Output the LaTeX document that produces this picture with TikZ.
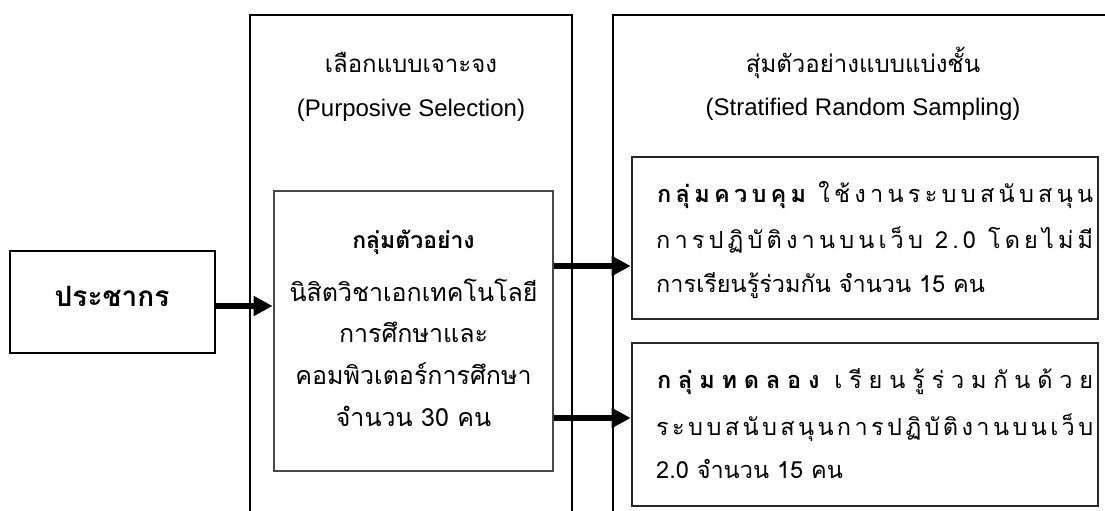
\documentclass[tikz,border=0pt]{standalone}
\usepackage{fontspec}
\setmainfont{Liberation Sans}
\newfontfamily\thai[Script=Thai]{Loma}
\usetikzlibrary{arrows.meta}
\newcommand{\gsp}{\hfil}
\tikzset{
  frame/.style={draw=black, line width=1.4pt, rectangle, inner sep=0pt},
  popbox/.style={draw=black, line width=1.8pt, rectangle, inner sep=0pt},
  samplebox/.style={draw=black!72, line width=2.8pt, rectangle, inner sep=0pt},
  groupbox/.style={draw=black!85, line width=2.6pt, rectangle, inner sep=0pt},
  thtxt/.style={font=\thai\fontsize{24}{28}\selectfont, inner sep=0pt},
  smptxt/.style={font=\thai\fontsize{25}{29}\selectfont, inner sep=0pt},
  grptxt/.style={font=\thai\fontsize{23.5}{28}\selectfont, inner sep=0pt},
  lattxt/.style={font=\fontsize{24}{28}\selectfont, inner sep=0pt},
  fat/.style={line width=6pt, -{Triangle[length=19pt,width=19pt]}},
}
\begin{document}
\begin{tikzpicture}[x=1pt,y=-1pt]
\useasboundingbox (0,0) rectangle (1105,511);
\clip (0,0) rectangle (1105,511);
\fill[white] (0,0) rectangle (1105,511);
% columns
\node[frame, minimum width=322pt, minimum height=560pt] (colA) at (411,295) {};
\node[frame, minimum width=500pt, minimum height=560pt] (colB) at (863,295) {};
% boxes
\node[popbox, minimum width=205pt, minimum height=102pt] (pop) at (112.5,302) {};
\node[samplebox, minimum width=279pt, minimum height=280pt] (sample) at (413.5,331) {};
\node[groupbox, minimum width=466pt, minimum height=162pt] (ctrl) at (865,238) {};
\node[groupbox, minimum width=466pt, minimum height=163pt] (exp) at (865,424.5) {};
% texts
\node[thtxt, anchor=mid, font=\thai\bfseries\fontsize{28}{32}\selectfont] (poptxt) at (112,304) {ประชากร};
\node[thtxt, anchor=mid] (tA1) at (411,70) {เลือกแบบเจาะจง};
\node[lattxt, anchor=mid] (tA2) at (411,114) {(Purposive Selection)};
\node[thtxt, anchor=mid] (tB1) at (863,70) {สุ่มตัวอย่างแบบแบ่งชั้น};
\node[lattxt, anchor=mid] (tB2) at (863,113) {(Stratified Random Sampling)};
\node[smptxt, anchor=mid, font=\thai\bfseries\fontsize{23}{27}\selectfont] (s1) at (413.5,246) {กลุ่มตัวอย่าง};
\node[smptxt, anchor=mid] (s2) at (413.5,299) {นิสิตวิชาเอกเทคโนโลยี};
\node[smptxt, anchor=mid] (s3) at (413.5,340) {การศึกษาและ};
\node[smptxt, anchor=mid] (s4) at (413.5,382) {คอมพิวเตอร์การศึกษา};
\node[smptxt, anchor=mid] (s5) at (413.5,424) {จำนวน 30 คน};
\node[grptxt, anchor=mid west] (c1) at (657,200) {\hbox to 436pt{\textbf{ก\gsp ลุ่\gsp ม\gsp ค\gsp ว\gsp บ\gsp คุ\gsp ม} \gsp ใ\gsp ช้\gsp ง\gsp า\gsp น\gsp ร\gsp ะ\gsp บ\gsp บ\gsp ส\gsp นั\gsp บ\gsp ส\gsp นุ\gsp น}};
\node[grptxt, anchor=mid west] (c2) at (656,246) {\hbox to 437pt{ก\gsp า\gsp ร\gsp ป\gsp ฏิ\gsp บั\gsp ติ\gsp ง\gsp า\gsp น\gsp บ\gsp น\gsp เ\gsp ว็\gsp บ \gsp 2\gsp .\gsp 0 \gsp โ\gsp ด\gsp ย\gsp ไ\gsp ม่\gsp มี}};
\node[grptxt, anchor=mid west] (c3) at (656,290) {การเรียนรู้ร่วมกัน จำนวน 15 คน};
\node[grptxt, anchor=mid west] (e1) at (657,386) {\hbox to 436pt{\textbf{ก\gsp ลุ่\gsp ม\gsp ท\gsp ด\gsp ล\gsp อ\gsp ง} \gsp เ\gsp รี\gsp ย\gsp น\gsp รู้\gsp ร่\gsp ว\gsp ม\gsp กั\gsp น\gsp ด้\gsp ว\gsp ย}};
\node[grptxt, anchor=mid west] (e2) at (656,433) {\hbox to 437pt{ร\gsp ะ\gsp บ\gsp บ\gsp ส\gsp นั\gsp บ\gsp ส\gsp นุ\gsp น\gsp ก\gsp า\gsp ร\gsp ป\gsp ฏิ\gsp บั\gsp ติ\gsp ง\gsp า\gsp น\gsp บ\gsp น\gsp เ\gsp ว็\gsp บ}};
\node[grptxt, anchor=mid west] (e3) at (656,476) {2.0 จำนวน 15 คน};
% arrows
\coordinate (a0) at (0,306);
\coordinate (a1) at (0,266);
\coordinate (a2) at (0,418);
\draw[fat] (pop.east |- a0) -- (sample.west |- a0);
\draw[fat] (sample.east |- a1) -- (ctrl.west |- a1);
\draw[fat] (sample.east |- a2) -- (exp.west |- a2);
\end{tikzpicture}
\end{document}
